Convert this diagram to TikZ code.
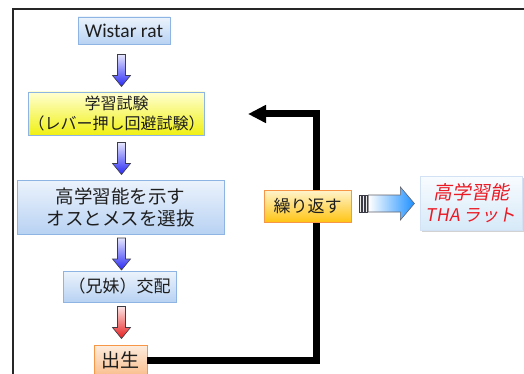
\documentclass[tikz,border=0pt]{standalone}
\usepackage{fontspec}
\setmainfont{Noto Sans CJK JP}
\newfontfamily\latinfont{Carlito}
\newfontfamily\cjkit[FakeSlant=0.18]{Noto Sans CJK JP}
\usetikzlibrary{calc,arrows.meta,shadows}
\definecolor{textc}{RGB}{30,30,30}
\definecolor{blueline}{RGB}{142,180,227}
\definecolor{bluetop}{RGB}{236,243,252}
\definecolor{bluebot}{RGB}{184,210,243}
\definecolor{yeltop}{RGB}{255,255,210}
\definecolor{yelbot}{RGB}{240,240,20}
\definecolor{orline}{RGB}{247,150,70}
\definecolor{ortop}{RGB}{253,236,222}
\definecolor{orbot}{RGB}{250,190,140}
\definecolor{goldtop}{RGB}{255,244,205}
\definecolor{goldbot}{RGB}{255,196,20}
\definecolor{arrblue}{RGB}{40,40,245}
\definecolor{arrred}{RGB}{232,30,30}
\definecolor{arrline}{RGB}{60,60,70}
\definecolor{skyblue}{RGB}{30,144,255}
\definecolor{thatop}{RGB}{248,252,255}
\definecolor{thabot}{RGB}{214,233,248}
\definecolor{thared}{RGB}{235,25,35}
\tikzset{
  box/.style={draw=blueline, line width=0.8pt, inner sep=0pt, text=textc, align=center},
  bluebox/.style={box, top color=bluetop, bottom color=bluebot},
  yelbox/.style={box, top color=yeltop, bottom color=yelbot},
  orbox/.style={box, draw=orline, top color=ortop, bottom color=orbot},
  goldbox/.style={box, draw=orline, top color=goldtop, bottom color=goldbot},
  thabox/.style={box, draw=blueline!40, top color=thatop, bottom color=thabot, text=thared,
    drop shadow={shadow xshift=1.5pt, shadow yshift=-1.5pt, opacity=0.35}},
  retline/.style={line width=7pt, line join=miter, -{Triangle[length=18pt,width=17pt]}},
  dnarrow/.pic={
    \path[draw=arrline, line width=0.6pt, top color=#1!12!white, bottom color=#1]
      (-4,-16) -- (4,-16) -- (4,5) -- (9,5) -- (0,16) -- (-9,5) -- (-4,5) -- cycle;
  }
}
\begin{document}
\begin{tikzpicture}[x=1pt,y=-1pt]
\useasboundingbox (0,0) rectangle (524,374);
\fill[white] (0,0) rectangle (524,374);
% frame
\draw[line width=1.6pt, black!85] (524,9) -- (13,9) -- (13,376);

% flow boxes
\node[bluebox, minimum width=92pt, minimum height=27pt, font=\latinfont\fontsize{19.5}{22}\selectfont] (wistar) at (124,30.5) {Wistar rat};
\node[yelbox, minimum width=163pt, minimum height=43pt, font=\fontsize{16}{20}\selectfont] (test) at (116.5,113.5) {学習試験\\（レバー押し回避試験）};
\node[bluebox, minimum width=207pt, minimum height=54pt, font=\fontsize{18.5}{22}\selectfont] (select) at (120.5,207) {高学習能を示す\\オスとメスを選抜};
\node[bluebox, minimum width=113pt, minimum height=31pt, font=\fontsize{17}{20}\selectfont] (mate) at (119.5,286.5) {（兄妹）交配};
\node[orbox, minimum width=53pt, minimum height=31pt, font=\fontsize{19}{22}\selectfont] (birth) at (120.5,360.5) {出生};

% block arrows between boxes
\coordinate (m1) at ($(wistar.south)!0.5!(test.north)$);
\coordinate (m2) at ($(test.south)!0.5!(select.north)$);
\coordinate (m3) at ($(select.south)!0.5!(mate.north)$);
\coordinate (m4) at ($(mate.south)!0.5!(birth.north)$);
\coordinate (a1) at (121.5,0 |- m1);
\coordinate (a2) at (121.5,0 |- m2);
\coordinate (a3) at (121.5,0 |- m3);
\coordinate (a4) at (121.5,0 |- m4);
\pic at ($(a1)+(0,2.5)$) {dnarrow=arrblue};
\pic at ($(a2)+(0,1)$) {dnarrow=arrblue};
\pic at ($(a3)+(0,1.5)$) {dnarrow=arrblue};
\pic at ($(a4)+(0,-1)$) {dnarrow=arrred};

% return loop
\coordinate (turn) at (316,114);
\coordinate (retend) at (248,114);
\draw[retline] (birth.east) -| (turn) -- (retend);

% repeat box and result
\node[goldbox, minimum width=87pt, minimum height=32pt, font=\fontsize{17}{20}\selectfont] (repeat) at (307.5,206) {繰り返す};
\node[thabox, minimum width=102pt, minimum height=54pt, font=\cjkit\fontsize{19}{21.5}\selectfont] (tha) at (471,203) {高学習能\\{\fontsize{17.5}{21.5}\selectfont THA ラット}};

% striped block arrow
\coordinate (sa) at ($(repeat.east)+(7,-2.5)$);
\begin{scope}[shift={(sa)}]
  \path[draw=arrline!80, line width=0.6pt, left color=white, right color=skyblue]
    (10,-8.5) -- (42,-8.5) -- (42,-16.5) -- (56,0) -- (42,16.5) -- (42,8.5) -- (10,8.5) -- cycle;
  \foreach \bx in {1,4,7} {
    \path[draw=arrline, line width=0.5pt, fill=white!85!gray] (\bx,-8.5) rectangle ++(1.6,17);
  }
\end{scope}
\end{tikzpicture}
\end{document}
